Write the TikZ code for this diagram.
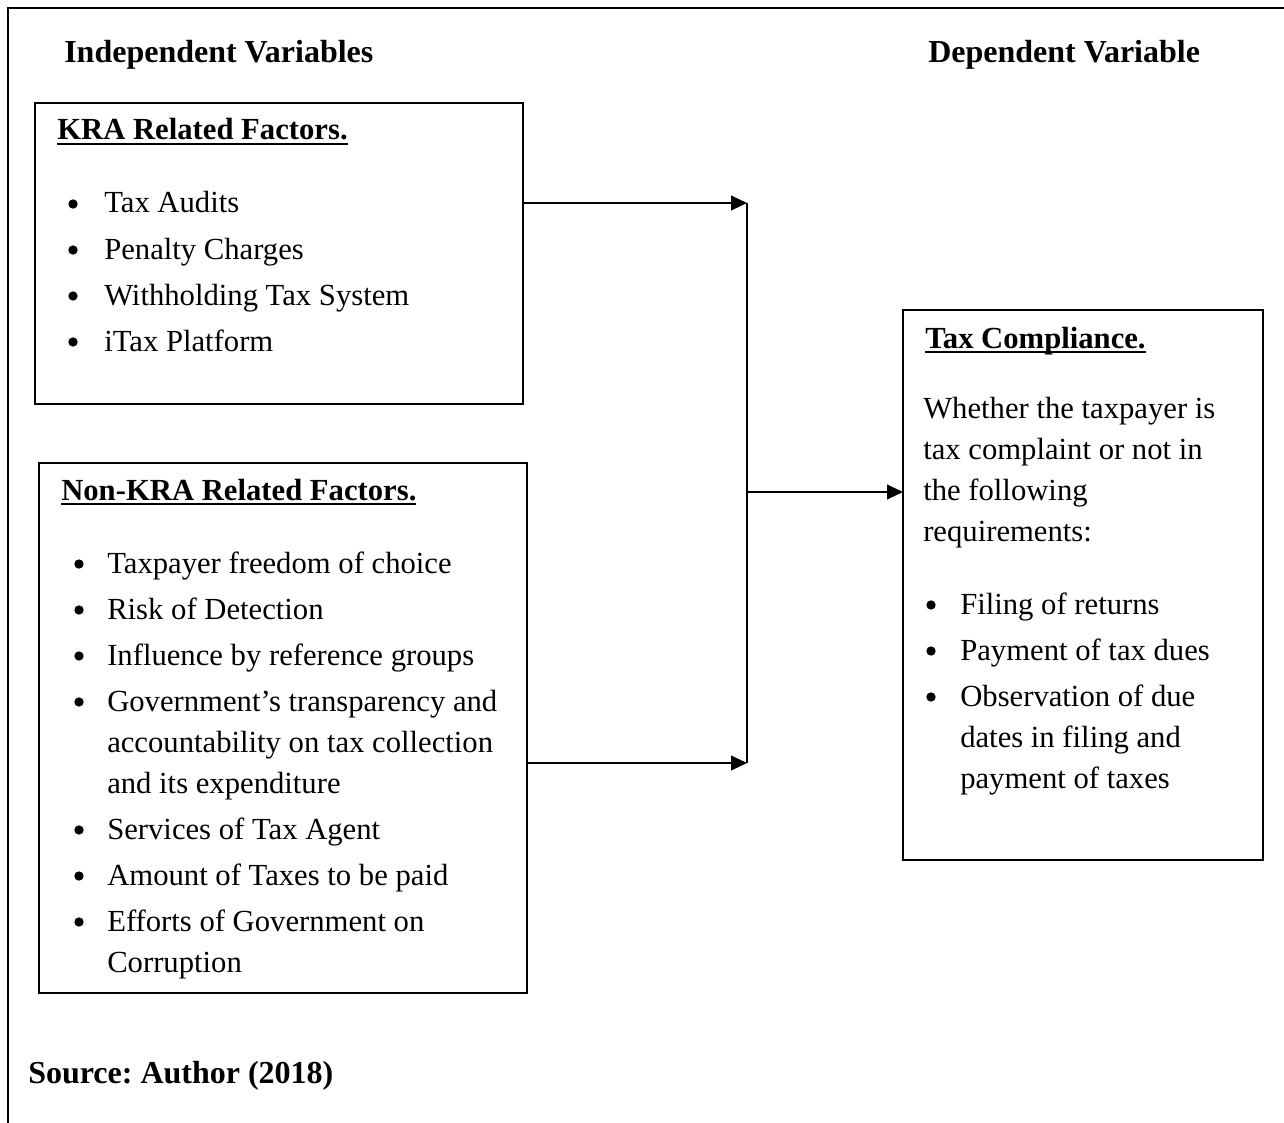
\documentclass[tikz,border=0pt]{standalone}
\usepackage{fontspec}
\setmainfont{Liberation Serif}
\usetikzlibrary{arrows.meta}
\frenchspacing

\newsavebox\ulinebox
\newcommand\uline[1]{\sbox\ulinebox{#1}\rlap{\rule[-4pt]{\wd\ulinebox}{1.4pt}}\usebox\ulinebox}

\tikzset{
  box/.style={draw, line width=1.5pt, inner sep=0pt, outer sep=0pt, anchor=north west},
  head/.style={anchor=base west, inner sep=0pt, font=\fontsize{24}{28}\selectfont\bfseries},
  subhead/.style={anchor=base west, inner sep=0pt, font=\fontsize{23}{28}\selectfont\bfseries},
  itemtext/.style={anchor=base west, inner sep=0pt, font=\fontsize{23}{28}\selectfont},
  bulletdot/.style={circle, fill, inner sep=0pt, minimum size=7pt},
  link/.style={line width=1.5pt, -{Triangle[length=12pt,width=11pt]}},
}

\begin{document}
\begin{tikzpicture}[x=0.75pt, y=-0.75pt]
\useasboundingbox (0,0) rectangle (1284,1123);
\draw[line width=1.5pt] (8,1123) -- (8,8) -- (1284,8);

% column titles
\node[head] (indep) at (64,63) {Independent Variables};
\node[head] (dep) at (928,63) {Dependent Variable};

% boxes
\node[box, minimum width=366pt, minimum height=225.75pt] (kra) at (35,103) {};
\node[box, minimum width=366pt, minimum height=397.5pt] (nonkra) at (39,463) {};
\node[box, minimum width=270pt, minimum height=412.5pt] (comp) at (903,310) {};

% KRA related factors
\node[subhead] (krahead) at (57,140) {\uline{KRA Related Factors.}};
\foreach \t [count=\i] in {Tax Audits, Penalty Charges, Withholding Tax System, iTax Platform}
{
  \node[itemtext] (kra\i) at (104,{213+46*(\i-1)}) {\t};
  \node[bulletdot] (kradot\i) at (73,{204+46*(\i-1)}) {};
}

% non-KRA related factors
\node[subhead] (nkhead) at (61,500) {\uline{Non-KRA Related Factors.}};
\foreach \y/\t [count=\i] in {573/Taxpayer freedom of choice, 619/Risk of Detection,
  665/Influence by reference groups, 711/Government’s transparency and,
  752/accountability on tax collection, 793/and its expenditure,
  839/Services of Tax Agent, 885/Amount of Taxes to be paid,
  931/Efforts of Government on, 972/Corruption}
  \node[itemtext] (nk\i) at (107,\y) {\t};
\foreach \y [count=\i] in {573,619,665,711,839,885,931}
  \node[bulletdot] (nkdot\i) at (79,\y-9) {};

% tax compliance
\node[subhead] (comphead) at (925,348) {\uline{Tax Compliance.}};
\foreach \y/\t [count=\i] in {418/Whether the taxpayer is, 459/tax complaint or not in,
  500/the following, 541/requirements:}
  \node[itemtext] (cp\i) at (923,\y) {\t};
\foreach \y/\t [count=\i] in {614/Filing of returns, 660/Payment of tax dues,
  706/Observation of due, 747/dates in filing and, 788/payment of taxes}
  \node[itemtext] (ci\i) at (960,\y) {\t};
\foreach \y [count=\i] in {614,660,706}
  \node[bulletdot] (cidot\i) at (931,\y-9) {};

% connectors
\coordinate (kjoin) at (747,203);
\coordinate (njoin) at (747,763);
\coordinate (mjoin) at (747,492);
\draw[link] (kra.east |- kjoin) -- (kjoin);
\draw[link] (nonkra.east |- njoin) -- (njoin);
\draw[line width=1.5pt] (kjoin) -- (njoin);
\draw[link] (mjoin) -- (comp.west |- mjoin);

\node[head] (source) at (28,1083) {Source: Author (2018)};
\end{tikzpicture}
\end{document}
